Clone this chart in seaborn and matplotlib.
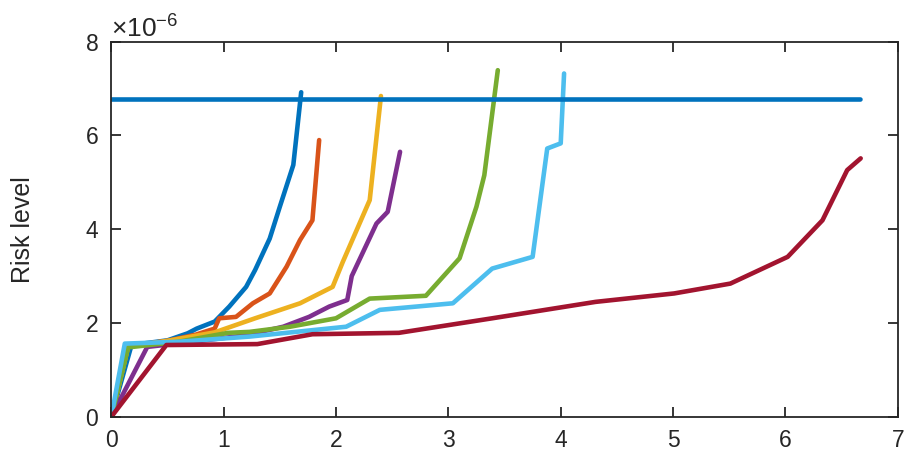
import numpy as np
import pandas as pd
import matplotlib
matplotlib.use("Agg")
import matplotlib.pyplot as plt
import seaborn as sns
from matplotlib.ticker import ScalarFormatter

# values (y in units of 1e-6)
x_blue = [0, 0.18, 0.5, 0.68, 0.76, 0.92, 1.05, 1.20, 1.28, 1.41, 1.50, 1.62, 1.69]
y_blue = [0, 1.53, 1.63, 1.78, 1.88, 2.03, 2.35, 2.77, 3.13, 3.80, 4.48, 5.37, 6.92]

x_orange = [0, 0.15, 0.5, 0.75, 0.92, 0.96, 1.11, 1.26, 1.41, 1.56, 1.68, 1.79, 1.85]
y_orange = [0, 1.50, 1.62, 1.75, 1.88, 2.10, 2.13, 2.42, 2.63, 3.20, 3.77, 4.19, 5.90]

x_yellow = [0, 0.15, 0.5, 0.92, 1.28, 1.68, 1.97, 2.06, 2.30, 2.40]
y_yellow = [0, 1.50, 1.62, 1.80, 2.10, 2.42, 2.77, 3.30, 4.62, 6.84]

x_purple = [0, 0.32, 0.8, 1.2, 1.53, 1.76, 1.94, 2.10, 2.14, 2.36, 2.46, 2.57]
y_purple = [0, 1.49, 1.62, 1.74, 1.92, 2.13, 2.35, 2.49, 3.00, 4.12, 4.37, 5.65]

x_green = [0, 0.15, 0.6, 1.04, 1.23, 1.59, 2.00, 2.30, 2.80, 3.10, 3.25, 3.32, 3.44]
y_green = [0, 1.48, 1.60, 1.79, 1.81, 1.92, 2.10, 2.52, 2.58, 3.38, 4.48, 5.15, 7.39]

x_cyan = [0, 0.12, 0.6, 1.23, 2.09, 2.39, 3.04, 3.39, 3.75, 3.88, 4.00, 4.03]
y_cyan = [0, 1.56, 1.60, 1.71, 1.92, 2.28, 2.42, 3.16, 3.41, 5.72, 5.83, 7.32]

x_red = [0, 0.49, 1.30, 1.79, 2.56, 3.39, 4.31, 5.01, 5.51, 6.02, 6.33, 6.55, 6.67]
y_red = [0, 1.53, 1.55, 1.76, 1.79, 2.10, 2.45, 2.63, 2.84, 3.41, 4.19, 5.26, 5.51]

x_limit = [0, 6.66]
y_limit = [6.77, 6.77]

series = {
    "s1": (x_blue, y_blue),
    "s2": (x_orange, y_orange),
    "s3": (x_yellow, y_yellow),
    "s4": (x_purple, y_purple),
    "s5": (x_green, y_green),
    "s6": (x_cyan, y_cyan),
    "s7": (x_red, y_red),
    "limit": (x_limit, y_limit),
}
colors = {
    "s1": "#0072BD", "s2": "#D95319", "s3": "#EDB120", "s4": "#7E2F8E",
    "s5": "#77AC30", "s6": "#4DBEEE", "s7": "#A2142F", "limit": "#0072BD",
}

rows = []
for name, (xs, ys) in series.items():
    for i, (a, b) in enumerate(zip(xs, ys)):
        rows.append({"series": name, "order": i, "x": a, "y": b * 1e-6})
df = pd.DataFrame(rows)

sns.set_style("ticks")
plt.rcParams["font.family"] = ["Liberation Sans", "DejaVu Sans"]
plt.rcParams["mathtext.fontset"] = "custom"
plt.rcParams["mathtext.rm"] = "Liberation Sans"
plt.rcParams["mathtext.default"] = "regular"

fig = plt.figure(figsize=(9.05, 4.57), dpi=100)
ax = fig.add_axes([0.123, 0.088, 0.869, 0.821])

sns.lineplot(data=df, x="x", y="y", hue="series", palette=colors,
             estimator=None, sort=False, linewidth=3.3, legend=False, ax=ax)

ax.set_xlim(0, 7)
ax.set_ylim(0, 8e-6)
ax.set_xticks(range(0, 8))
ax.set_yticks(np.arange(0, 9, 2) * 1e-6)

fmt = ScalarFormatter(useMathText=True)
fmt.set_powerlimits((0, 0))
ax.yaxis.set_major_formatter(fmt)
ax.yaxis.get_offset_text().set_fontsize(19)
ax.yaxis.get_offset_text().set_color("#262626")

ax.set_xlabel("")
ax.set_ylabel("Risk level", fontsize=18, color="#262626")
ax.yaxis.set_label_coords(-0.097, 0.5)

for s in ax.spines.values():
    s.set_visible(True)
    s.set_color("#262626")
    s.set_linewidth(1.3)
ax.tick_params(direction="in", length=7, width=1.3, colors="#262626",
               labelsize=16.5, top=True, right=True, pad=9)

fig.savefig("out.png", dpi=100)
